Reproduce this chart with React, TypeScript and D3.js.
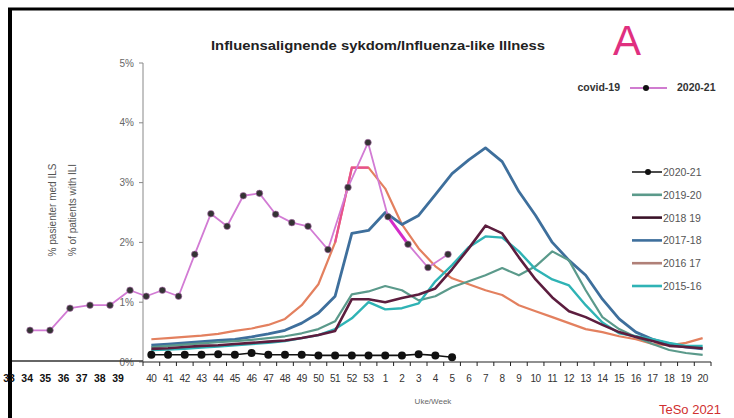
import React from "react";
import * as d3 from "d3";

const weeks = ["40","41","42","43","44","45","46","47","48","49","50","51","52","53","1","2","3","4","5","6","7","8","9","10","11","12","13","14","15","16","17","18","19","20"];
const yTicks = [0, 1, 2, 3, 4, 5];
const leftWeeks = ["33","34","35","36","37","38","39"];

const s2021 = [0.12,0.12,0.12,0.12,0.13,0.12,0.15,0.12,0.12,0.12,0.11,0.11,0.11,0.11,0.11,0.11,0.13,0.11,0.08];
const s1920 = [0.25,0.27,0.29,0.31,0.33,0.35,0.37,0.4,0.43,0.48,0.55,0.68,1.13,1.18,1.27,1.2,1.03,1.1,1.25,1.35,1.45,1.57,1.45,1.6,1.85,1.7,1.2,0.75,0.55,0.42,0.3,0.2,0.15,0.12];
const s1819 = [0.22,0.23,0.25,0.27,0.28,0.3,0.32,0.34,0.36,0.4,0.45,0.52,1.05,1.05,1.0,1.07,1.13,1.23,1.55,1.9,2.28,2.15,1.75,1.38,1.08,0.85,0.75,0.62,0.5,0.42,0.35,0.27,0.25,0.23];
const s1718 = [0.28,0.3,0.32,0.34,0.36,0.38,0.42,0.47,0.53,0.65,0.82,1.1,2.15,2.2,2.5,2.3,2.45,2.8,3.15,3.38,3.58,3.35,2.85,2.45,2.0,1.7,1.45,1.05,0.72,0.5,0.38,0.3,0.25,0.22];
const s1617 = [0.38,0.4,0.42,0.44,0.47,0.52,0.56,0.62,0.72,0.95,1.3,2.0,3.25,3.25,2.9,2.3,1.9,1.6,1.4,1.3,1.2,1.12,0.95,0.85,0.75,0.65,0.55,0.5,0.43,0.38,0.3,0.28,0.32,0.4];
const s1516 = [0.2,0.21,0.22,0.24,0.26,0.28,0.3,0.32,0.35,0.4,0.45,0.55,0.73,1.0,0.88,0.9,0.98,1.35,1.62,1.92,2.1,2.08,1.85,1.55,1.38,1.28,0.95,0.66,0.48,0.43,0.38,0.32,0.27,0.27];

const covidWeeks = ["34","35","36","37","38","39","40","41","42","43","44","45","46","47","48","49","50","51","52","53","1","2","3","4"];
const covidVals = [0.53,0.53,0.9,0.95,0.95,1.2,1.1,1.2,1.1,1.8,2.48,2.27,2.78,2.82,2.47,2.33,2.27,1.88,2.92,3.67,2.43,1.97,1.58,1.8];

const seriesNames = ["2020-21","2019-20","2018 19","2017-18","2016 17","2015-16"];
const seriesData = [s2021, s1920, s1819, s1718, s1617, s1516];
const seriesColors = ["#111111","#5b9a8b","#5c1d3e","#3e6f9c","#e3805f","#2fb3b5"];
const legendColors = ["#111111","#5b9a8b","#3a1228","#3e6f9c","#b08078","#2fb3b5"];
const seriesWidths = [1.6, 2.2, 2.6, 2.8, 2.2, 2.4];

const W = 734, H = 418;

export default function App() {
  const x = d3.scaleBand<string>().domain(weeks).range([143, 711]);
  const cx = (w: string) => (x(w) as number) + x.bandwidth() / 2;
  const y = d3.scaleLinear().domain([0, 5]).range([362, 63]);
  const xl = d3.scalePoint<string>().domain(leftWeeks).range([9, 118]);
  const xc = d3.scaleLinear().domain([0, 5, 16, 23]).range([30, 130, 308, 448]);

  const line = d3.line<number>().x((_, i) => cx(weeks[i])).y(d => y(d));
  const cline = d3.line<number>().x((_, i) => xc(i)).y(d => y(d));

  const drawOrder = [4, 3, 1, 5, 2, 0];

  return (
    <svg width={W} height={H} style={{ position: "absolute", left: 0, top: 0, background: "#fff" }} fontFamily="'Liberation Sans', Arial, sans-serif">
      <rect x={0} y={0} width={W} height={H} fill="#fff" />
      {/* frame */}
      <line x1={8} x2={W} y1={9} y2={9} stroke="#000" strokeWidth={3} />
      <line x1={10} x2={10} y1={8} y2={H} stroke="#000" strokeWidth={4} />

      {/* title */}
      <text x={378} y={50} textAnchor="middle" fontSize={13} fontWeight="bold" fill="#222" textLength={334} lengthAdjust="spacingAndGlyphs">Influensalignende sykdom/Influenza-like Illness</text>
      <text x={627} y={55} textAnchor="middle" fontSize={42} fill="#e0307f">A</text>

      {/* y axis */}
      <line x1={143} x2={143} y1={y(5)} y2={y(0)} stroke="#888" strokeWidth={1} />
      {yTicks.map(t => (
        <g key={t}>
          <line x1={139} x2={143} y1={y(t)} y2={y(t)} stroke="#888" />
          <text x={134} y={y(t) + 3.5} textAnchor="end" fontSize={10} fill="#666">{t}%</text>
        </g>
      ))}
      <text transform={`translate(56,210) rotate(-90)`} textAnchor="middle" fontSize={10} fill="#555">% pasienter med ILS</text>
      <text transform={`translate(76,210) rotate(-90)`} textAnchor="middle" fontSize={10} fill="#555">% of patients with ILI</text>

      {/* x axis */}
      <line x1={12} x2={143} y1={361} y2={361} stroke="#333" strokeWidth={1.5} />
      <line x1={143} x2={711} y1={362} y2={362} stroke="#222" strokeWidth={1.2} />
      {weeks.map(w => (
        <line key={"t" + w} x1={x(w) as number} x2={x(w) as number} y1={362} y2={366} stroke="#222" />
      ))}
      <line x1={711} x2={711} y1={362} y2={366} stroke="#222" />
      {weeks.map(w => (
        <text key={"l" + w} x={cx(w)} y={382} textAnchor="middle" fontSize={10} fill="#333" letterSpacing={-0.4}>{w}</text>
      ))}
      {leftWeeks.map(w => (
        <text key={"ll" + w} x={xl(w) as number} y={382} textAnchor="middle" fontSize={10.5} fontWeight="bold" fill="#111">{w}</text>
      ))}
      <text x={433} y={404} textAnchor="middle" fontSize={8} fill="#666">Uke/Week</text>
      <text x={690} y={414} textAnchor="middle" fontSize={13} fill="#d03030">TeSo 2021</text>

      {/* series */}
      {drawOrder.map(k => (
        <path key={"s" + k} d={line(seriesData[k]) || ""} fill="none" stroke={seriesColors[k]} strokeWidth={seriesWidths[k]} strokeLinejoin="round" />
      ))}
      <path d={d3.line<number>().x((_, i) => cx(weeks[i + 11])).y(d => y(d))(s1617.slice(11, 14)) || ""} fill="none" stroke="#e8508f" strokeWidth={2.2} />
      {s2021.map((v, i) => (
        <circle key={"d" + i} cx={cx(weeks[i])} cy={y(v)} r={4} fill="#111" />
      ))}

      {/* covid overlay */}
      <path d={cline(covidVals) || ""} fill="none" stroke="#d27bd4" strokeWidth={1.8} strokeLinejoin="round" />
      <path d={d3.line<number>().x((_, i) => xc(i + 20)).y(d => y(d))(covidVals.slice(20, 22)) || ""} fill="none" stroke="#d42cc8" strokeWidth={3} />
      {covidVals.map((v, i) => (
        <circle key={"c" + covidWeeks[i]} cx={xc(i)} cy={y(v)} r={3.3} fill="#333" stroke="#b070b0" strokeWidth={0.6} />
      ))}

      {/* legends */}
      <text x={620} y={91} textAnchor="end" fontSize={10.5} fontWeight="bold" fill="#333">covid-19</text>
      <line x1={630} x2={667} y1={88} y2={88} stroke="#c050c0" strokeWidth={1.5} />
      <circle cx={646} cy={88} r={3} fill="#111" />
      <text x={677} y={91} fontSize={10.5} fontWeight="bold" fill="#333">2020-21</text>

      {seriesNames.map((n, i) => {
        const ly = 172 + i * 22.8;
        return (
          <g key={"lg" + n}>
            <line x1={632} x2={662} y1={ly} y2={ly} stroke={legendColors[i]} strokeWidth={i === 0 ? 1.5 : 2.6} />
            {i === 0 && <circle cx={648} cy={ly} r={3} fill="#111" />}
            <text x={663} y={ly + 4} fontSize={10.5} fill="#555">{n}</text>
          </g>
        );
      })}
    </svg>
  );
}
